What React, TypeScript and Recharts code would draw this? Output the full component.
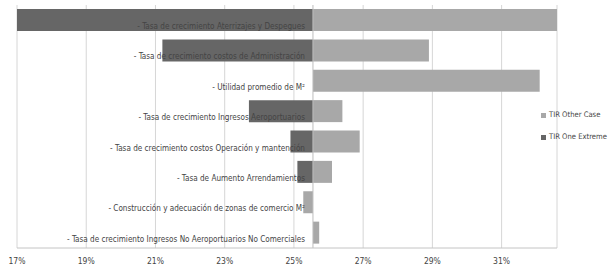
import React from 'react';
import { BarChart, Bar, XAxis, YAxis, CartesianGrid, ReferenceLine, Legend, LabelList } from 'recharts';

document.body.style.margin = '0';

// TIR base case (percent) where the category axis crosses
const BASE = 25.55;

const categories = [
  '- Tasa de crecimiento Aterrizajes y Despegues',
  '- Tasa de crecimiento costos de Administración',
  '- Utilidad promedio de M²',
  '- Tasa de crecimiento Ingresos Aeroportuarios',
  '- Tasa de crecimiento costos Operación y mantención',
  '- Tasa de Aumento Arrendamientos',
  '- Construcción y adecuación de zonas de comercio M²',
  '- Tasa de crecimiento Ingresos No Aeroportuarios No Comerciales',
];
const oneExtreme = [17.0, 21.2, 25.55, 23.7, 24.9, 25.1, 25.55, 25.55];
const otherCase = [32.6, 28.9, 32.1, 26.4, 26.9, 26.1, 25.27, 25.73];
const xTicks = [17, 19, 21, 23, 25, 27, 29, 31];

const DARK = '#666666';
const LIGHT = '#a8a8a8';
const FONT = "'Liberation Sans Narrow', 'DejaVu Sans Condensed', 'Liberation Sans', sans-serif";

const data = categories.map((name, i) => ({
  name,
  anchor: [17, BASE],
  extreme: [Math.min(oneExtreme[i], BASE), Math.max(oneExtreme[i], BASE)],
  other: [Math.min(otherCase[i], BASE), Math.max(otherCase[i], BASE)],
}));

const RowLabel = (props: any) => {
  const { x, y, width, height, value } = props;
  return (
    <text x={x + width - 8} y={y + height - 2} textAnchor="end" fontSize={8.1} fill="#444" fontFamily={FONT}>
      {value}
    </text>
  );
};

const LegendBox = () => (
  <div style={{ fontFamily: FONT, fontSize: 7.6, color: '#444', lineHeight: '22px', whiteSpace: 'nowrap' }}>
    {[['TIR Other Case', LIGHT], ['TIR One Extreme', DARK]].map(([label, color]) => (
      <div key={label} style={{ display: 'flex', alignItems: 'center' }}>
        <span style={{ width: 5, height: 5, background: color, marginRight: 3, display: 'inline-block' }} />
        {label}
      </div>
    ))}
  </div>
);

export default function App() {
  return (
    <div style={{ width: 611, height: 277, background: '#fff', position: 'relative', overflow: 'hidden' }}>
      <BarChart
        width={611}
        height={277}
        data={data}
        layout="vertical"
        margin={{ top: 5, right: 54, left: 17, bottom: 9 }}
        barSize={22}
        barGap={-22}
      >
        <CartesianGrid horizontal={false} stroke="#d6d6d6" />
        <XAxis
          type="number"
          domain={[17, 32.6]}
          ticks={xTicks}
          allowDataOverflow
          height={20}
          tickLine={false}
          tickMargin={4}
          axisLine={{ stroke: '#c4c4c4' }}
          tick={{ fontSize: 8.5, fill: '#444', fontFamily: FONT }}
          tickFormatter={(v) => `${v}%`}
        />
        <YAxis type="category" dataKey="name" hide />
        <Bar dataKey="anchor" fill="transparent" isAnimationActive={false} legendType="none">
          <LabelList dataKey="name" content={RowLabel} />
        </Bar>
        <Bar dataKey="extreme" name="TIR One Extreme" fill={DARK} isAnimationActive={false} />
        <Bar dataKey="other" name="TIR Other Case" fill={LIGHT} isAnimationActive={false} />
        <ReferenceLine x={BASE} stroke="#bdbdbd" />
        <Legend
          layout="vertical"
          align="center"
          verticalAlign="middle"
          content={LegendBox}
          wrapperStyle={{ left: 541, top: 104, width: 70 }}
        />
      </BarChart>
    </div>
  );
}
